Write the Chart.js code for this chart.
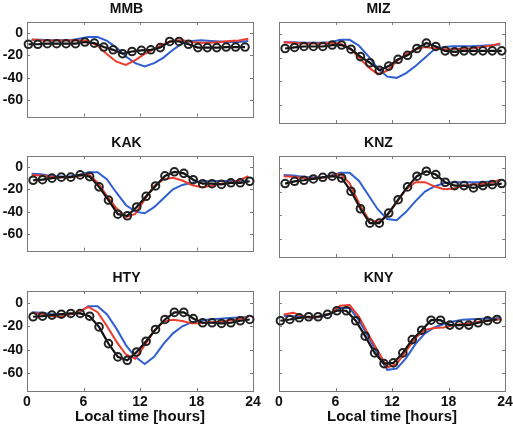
<!DOCTYPE html>
<html>
<head>
<meta charset="utf-8">
<script src="https://cdn.jsdelivr.net/npm/chart.js@4/dist/chart.umd.min.js"></script>
<style>
html, body { margin: 0; padding: 0; background: #fff; }
#wrap { position: relative; width: 513px; height: 429px; overflow: hidden; }
#wrap canvas { position: absolute; }
</style>
</head>
<body>
<div id="wrap"></div>
<script>
// hours of the model curves and of the observed (black) points
const lineHours = [0.5, 1.5, 2.5, 3.5, 4.5, 5.5, 6.5, 7.5, 8.5, 9.5, 10.5, 11.5, 12.5, 13.5, 14.5, 15.5, 16.5, 17.5, 18.5, 19.5, 20.5, 21.5, 22.5, 23.5]
const hoursEarly = [0.15, 1.15, 2.15, 3.15, 4.15, 5.15, 6.15, 7.15, 8.15, 9.15, 10.15, 11.15, 12.15, 13.15, 14.15, 15.15, 16.15, 17.15, 18.15, 19.15, 20.15, 21.15, 22.15, 23.15]
const hoursLate = [0.65, 1.65, 2.65, 3.65, 4.65, 5.65, 6.65, 7.65, 8.65, 9.65, 10.65, 11.65, 12.65, 13.65, 14.65, 15.65, 16.65, 17.65, 18.65, 19.65, 20.65, 21.65, 22.65, 23.65]
const xTicks = [0, 6, 12, 18, 24]
const yTicks = [-60, -40, -20, 0]

const mmbObs = [-10, -10, -9.5, -9.5, -9.5, -9.5, -8, -9, -12.5, -15, -18.5, -16.5, -15.5, -15, -13, -7.5, -7.5, -10, -13, -13, -13, -12.5, -12.5, -12.5]
const mmbRed = [-5.7, -6.3, -6.6, -6.6, -6.6, -6.3, -7.1, -11.4, -19, -25.7, -28.6, -24.3, -18.6, -14.3, -10, -6.6, -6.3, -8, -8.6, -8.6, -8, -7.1, -6.6, -5.1]
const mmbBlue = [-6, -6, -6.5, -6.5, -6.5, -5, -3.5, -3.5, -7, -13, -21, -27, -30, -27, -22, -15, -9, -7, -6.5, -7, -7.5, -8, -8, -7]

const mizObs = [-12.3, -11.4, -10.6, -10.6, -10.6, -9.4, -9.4, -12.9, -19.1, -24.3, -30.6, -27.1, -21.4, -18, -12.3, -7.7, -10.6, -14.3, -15.1, -14.3, -14.3, -14.3, -14.3, -14.3]
const mizRed = [-7, -7.5, -8, -8, -8, -7.5, -8, -12, -20, -28, -34, -31, -23, -17, -13, -11, -12, -13, -13, -12.5, -12, -11, -10, -8]
const mizBlue = [-7, -7, -7.5, -7.5, -7.5, -7, -5, -5, -10, -19, -29, -36, -37, -33, -27, -20, -13, -11, -10.5, -10.5, -10.5, -10, -9.5, -9]

const kakObs = [-11.8, -11.3, -9.9, -9, -9, -7, -8.5, -17.7, -29.6, -42.3, -43.7, -35.8, -26.2, -16.9, -7.9, -4.2, -5.6, -11.3, -14.9, -14.9, -15.5, -14.1, -14.1, -12.7]
const kakRed = [-7, -7.5, -8.5, -9, -9, -8, -6, -14, -26, -37, -45, -42, -29, -17, -11, -9.5, -12, -16, -18, -17, -15, -14, -12, -8]
const kakBlue = [-6, -6.5, -8, -8.5, -8.5, -7, -4.5, -4.5, -11, -23, -34, -40, -41.5, -36, -28, -20, -16, -14, -13, -12.5, -12.5, -12.5, -12.5, -12]

const knzObs = [-13.2, -11.3, -10.4, -9.3, -7.9, -7, -8.5, -19.7, -34.4, -46.5, -46.5, -38, -26.8, -16, -7, -2.8, -5.6, -12.1, -14.9, -14.9, -16.9, -14.9, -14.1, -13.2]
const knzRed = [-7, -7.5, -8.5, -9, -8.5, -7, -5, -13, -30, -43, -46, -40, -29, -18, -12, -12, -15.5, -18, -17.5, -15, -14, -13.5, -12.5, -10]
const knzBlue = [-6, -6.5, -7.5, -8, -8, -6.5, -4, -4, -11, -23, -35, -43, -44, -37, -28, -20, -15.5, -13, -12, -12, -12, -12, -11.5, -11]

const htyObs = [-11.9, -11.4, -10.5, -9.7, -9.1, -9.1, -11.4, -20.5, -34.7, -46, -48.9, -41.8, -32.7, -22.7, -14.2, -8.2, -8.2, -13.4, -17, -17, -17.6, -17, -15.3, -14.2]
const htyRed = [-8.5, -9.5, -11, -12, -10, -8, -3.5, -8, -20, -33, -44, -47.5, -36, -24, -16, -14.5, -15.5, -17.5, -17.5, -16.5, -16, -15, -14, -12]
const htyBlue = [-8, -8.5, -9.5, -10, -10, -8.5, -3, -3, -10, -22, -36, -46, -52, -46, -35, -26, -20, -16.5, -15, -14, -13.5, -13, -12.5, -12]

const knyObs = [-15.3, -14.2, -12.8, -11.9, -11.9, -9.9, -6.8, -6.8, -15.3, -28.4, -42.6, -51.7, -51.1, -42.6, -31.3, -23.3, -14.8, -14.8, -19, -19, -19, -17, -15.3, -14.2]
const knyRed = [-10, -8.5, -11, -13, -11.5, -9, -2.5, -2, -12, -27, -41, -55, -52, -41, -30, -23, -21.5, -21, -19, -18, -17, -16, -15, -14]
const knyBlue = [-11, -11.5, -12, -13, -12, -9.5, -4.5, -4.5, -15, -29, -44, -57, -56, -47, -35, -26, -21, -18, -16, -14.5, -14, -13.5, -13.5, -13]

const panels = [
    { name: 'MMB', obsHours: hoursEarly, obs: mmbObs, red: mmbRed, blue: mmbBlue },
    { name: 'MIZ', obsHours: hoursLate, obs: mizObs, red: mizRed, blue: mizBlue },
    { name: 'KAK', obsHours: hoursLate, obs: kakObs, red: kakRed, blue: kakBlue },
    { name: 'KNZ', obsHours: hoursLate, obs: knzObs, red: knzRed, blue: knzBlue },
    { name: 'HTY', obsHours: hoursLate, obs: htyObs, red: htyRed, blue: htyBlue },
    { name: 'KNY', obsHours: hoursEarly, obs: knyObs, red: knyRed, blue: knyBlue }
]

const fontFamily = '"Liberation Sans", Arial, Helvetica, sans-serif'
const colLeft = [27, 279]
const rowTop = [22, 156, 291]
const rowHeight = [101, 101, 100]
const plotW = 226
const yAxisW = 27
const titleH = 22
const padRight = 12

// box round the plot area and matlab-style inward ticks
const boxPlugin = {
    id: 'box',
    beforeDatasetsDraw(chart) {
        const { ctx, chartArea: a, scales } = chart
        ctx.save()
        ctx.strokeStyle = '#7a7a7a'
        ctx.lineWidth = 1
        ctx.beginPath()
        xTicks.forEach((v) => {
            const px = Math.round(scales.x.getPixelForValue(v)) + 0.5
            ctx.moveTo(px, a.bottom)
            ctx.lineTo(px, a.bottom - 3)
            ctx.moveTo(px, a.top)
            ctx.lineTo(px, a.top + 3)
        })
        yTicks.forEach((v) => {
            const py = Math.round(scales.y.getPixelForValue(v)) + 0.5
            ctx.moveTo(a.left, py)
            ctx.lineTo(a.left + 3, py)
            ctx.moveTo(a.right, py)
            ctx.lineTo(a.right - 3, py)
        })
        ctx.stroke()
        ctx.strokeRect(Math.round(a.left) + 0.5, Math.round(a.top) + 0.5, Math.round(a.right - a.left), Math.round(a.bottom - a.top))
        ctx.restore()
    }
}

const wrap = document.getElementById('wrap')

panels.forEach((p, i) => {
    const col = i % 2
    const row = Math.floor(i / 2)
    const bottomRow = row === 2
    const xAxisH = bottomRow ? 38 : 0
    const padBottom = bottomRow ? 0 : 6

    const cv = document.createElement('canvas')
    const w = yAxisW + plotW + padRight
    const h = titleH + rowHeight[row] + xAxisH + padBottom
    cv.width = w
    cv.height = h
    cv.style.width = w + 'px'
    cv.style.height = h + 'px'
    cv.style.left = (colLeft[col] - yAxisW) + 'px'
    cv.style.top = (rowTop[row] - titleH) + 'px'
    wrap.appendChild(cv)

    new Chart(cv, {
        type: 'line',
        data: {
            datasets: [
                {
                    label: 'observed',
                    data: p.obsHours.map((x, k) => ({ x: x, y: p.obs[k] })),
                    borderColor: '#111',
                    borderWidth: 2.2,
                    pointRadius: 3.8,
                    pointBorderWidth: 2,
                    pointBorderColor: '#222',
                    pointBackgroundColor: 'rgba(0,0,0,0)',
                    clip: false
                },
                {
                    label: 'red',
                    data: lineHours.map((x, k) => ({ x: x, y: p.red[k] })),
                    borderColor: '#ee3b2b',
                    borderWidth: 2,
                    pointRadius: 0
                },
                {
                    label: 'blue',
                    data: lineHours.map((x, k) => ({ x: x, y: p.blue[k] })),
                    borderColor: '#2f5fd0',
                    borderWidth: 2,
                    pointRadius: 0
                }
            ]
        },
        options: {
            responsive: false,
            animation: false,
            devicePixelRatio: 1,
            layout: { padding: { left: 0, right: padRight, top: 0, bottom: padBottom } },
            plugins: {
                legend: { display: false },
                tooltip: { enabled: false },
                title: {
                    display: true,
                    text: p.name,
                    color: '#111',
                    font: { family: fontFamily, size: 14, weight: 'bold', lineHeight: 1.2 },
                    padding: { top: 1.1, bottom: 4.1 }
                }
            },
            scales: {
                x: {
                    type: 'linear',
                    min: 0,
                    max: 24,
                    afterBuildTicks: (s) => { s.ticks = xTicks.map((v) => ({ value: v })) },
                    afterFit: (s) => { s.height = xAxisH },
                    grid: { display: false, drawTicks: false },
                    border: { display: false },
                    ticks: {
                        display: bottomRow,
                        color: '#111',
                        padding: 3,
                        maxRotation: 0,
                        autoSkip: false,
                        font: { family: fontFamily, size: 14, weight: 'bold' }
                    },
                    title: {
                        display: bottomRow,
                        text: 'Local time [hours]',
                        color: '#111',
                        padding: { top: 0, bottom: 3 },
                        font: { family: fontFamily, size: 15, weight: 'bold' }
                    }
                },
                y: {
                    type: 'linear',
                    min: -75,
                    max: 10,
                    afterBuildTicks: (s) => { s.ticks = yTicks.map((v) => ({ value: v })) },
                    afterFit: (s) => { s.width = yAxisW },
                    grid: { display: false, drawTicks: false },
                    border: { display: false },
                    ticks: {
                        display: col === 0,
                        color: '#111',
                        padding: 4,
                        font: { family: fontFamily, size: 14, weight: 'bold' }
                    }
                }
            }
        },
        plugins: [boxPlugin]
    })
})
</script>
</body>
</html>
